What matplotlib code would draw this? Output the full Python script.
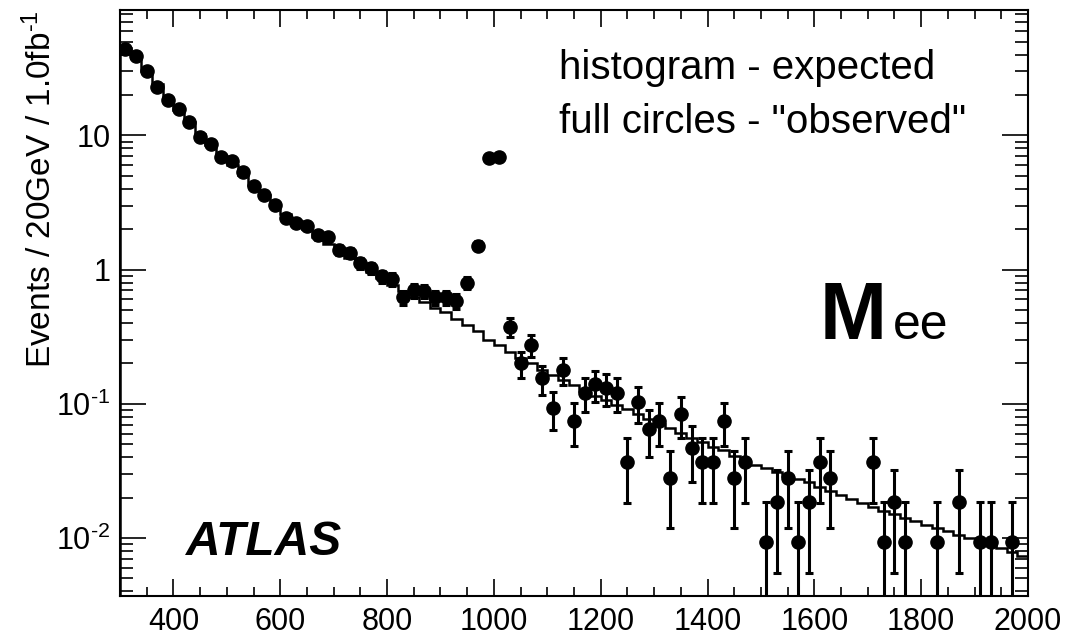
import matplotlib
matplotlib.use('Agg')
import matplotlib.pyplot as plt
import numpy as np
from matplotlib.ticker import MultipleLocator, LogLocator, FuncFormatter, NullFormatter

plt.rcParams['font.family'] = ['Liberation Sans', 'DejaVu Sans']
plt.rcParams['mathtext.fontset'] = 'custom'
plt.rcParams['mathtext.rm'] = 'Liberation Sans'
plt.rcParams['mathtext.it'] = 'Liberation Sans:italic'
plt.rcParams['mathtext.bf'] = 'Liberation Sans:bold'

# expected histogram, 20 GeV bins from 300 to 2000
bin_edges = np.arange(300, 2001, 20)
expected = [45, 38, 30, 24, 19, 15.5, 12.5, 10.2, 8.5, 7.0,
            6.0, 5.1, 4.3, 3.6, 3.05, 2.6, 2.3, 2.0, 1.75, 1.55,
            1.38, 1.22, 1.08, 0.96, 0.86, 0.77, 0.69, 0.62, 0.57, 0.52,
            0.48, 0.43, 0.39, 0.35, 0.30, 0.275, 0.245, 0.22, 0.20, 0.18,
            0.165, 0.15, 0.138, 0.125, 0.115, 0.106, 0.098, 0.091, 0.084, 0.077,
            0.071, 0.066, 0.061, 0.056, 0.052, 0.048, 0.045, 0.041, 0.038, 0.035,
            0.033, 0.031, 0.029, 0.0275, 0.026, 0.024, 0.0225, 0.021, 0.0195, 0.0182,
            0.017, 0.016, 0.015, 0.0142, 0.0134, 0.0126, 0.0119, 0.0112, 0.0106, 0.010,
            0.0094, 0.0089, 0.0084, 0.0079, 0.0074]

# "observed" points (empty bins are not drawn)
obs_mass = [310, 330, 350, 370, 390, 410, 430, 450, 470, 490,
            510, 530, 550, 570, 590, 610, 630, 650, 670, 690,
            710, 730, 750, 770, 790, 810, 830, 850, 870, 890,
            910, 930, 950, 970, 990, 1010, 1030, 1050, 1070, 1090,
            1110, 1130, 1150, 1170, 1190, 1210, 1230, 1250, 1270, 1290,
            1310, 1330, 1350, 1370, 1390, 1410, 1430, 1450, 1470, 1510,
            1530, 1550, 1570, 1590, 1610, 1630, 1710, 1730, 1750, 1770,
            1830, 1870, 1910, 1930, 1970]
obs_val = [44, 39, 30, 23, 18.5, 15.6, 12.6, 9.8, 8.7, 6.9,
           6.5, 5.3, 4.2, 3.6, 3.05, 2.42, 2.22, 2.10, 1.80, 1.75,
           1.41, 1.33, 1.12, 1.03, 0.89, 0.85, 0.62, 0.70, 0.69, 0.62,
           0.62, 0.58, 0.80, 1.51, 6.8, 6.9, 0.375, 0.20, 0.275, 0.155,
           0.093, 0.178, 0.075, 0.121, 0.140, 0.131, 0.121, 0.037, 0.103, 0.065,
           0.075, 0.028, 0.084, 0.047, 0.037, 0.037, 0.075, 0.028, 0.037, 0.0093,
           0.0187, 0.028, 0.0093, 0.0187, 0.037, 0.028, 0.037, 0.0093, 0.0187, 0.0093,
           0.0093, 0.0187, 0.0093, 0.0093, 0.0093]
obs_err = [0.64, 0.60, 0.53, 0.46, 0.42, 0.38, 0.34, 0.30, 0.285, 0.254,
           0.246, 0.222, 0.198, 0.183, 0.169, 0.150, 0.144, 0.140, 0.130, 0.128,
           0.115, 0.111, 0.102, 0.098, 0.091, 0.089, 0.076, 0.081, 0.080, 0.076,
           0.076, 0.074, 0.086, 0.119, 0.252, 0.254, 0.059, 0.043, 0.051, 0.038,
           0.0295, 0.041, 0.0265, 0.0336, 0.0361, 0.035, 0.0336, 0.0186, 0.031, 0.0246,
           0.0265, 0.0162, 0.028, 0.0209, 0.0186, 0.0186, 0.0265, 0.0162, 0.0186, 0.0093,
           0.0132, 0.0162, 0.0093, 0.0132, 0.0186, 0.0162, 0.0186, 0.0093, 0.0132, 0.0093,
           0.0093, 0.0132, 0.0093, 0.0093, 0.0093]

fig = plt.figure(figsize=(10.76, 6.36), dpi=100)
ax = fig.add_axes([120 / 1076, 1 - 596 / 636, 908 / 1076, 586 / 636])

ax.stairs(expected, bin_edges, color='black', lw=1.8)

vals = np.array(obs_val)
err_hi = np.array(obs_err)
err_lo = np.minimum(err_hi, vals - 1e-5)
ax.errorbar(obs_mass, vals, yerr=[err_lo, err_hi], fmt='o', color='black',
            ms=9.5, elinewidth=2.2, capsize=2.8, capthick=2.2, zorder=3)

ax.set_yscale('log')
ax.set_xlim(300, 2000)
ax.set_ylim(0.0037, 86)

ax.xaxis.set_major_locator(MultipleLocator(200))
ax.xaxis.set_minor_locator(MultipleLocator(50))
ax.yaxis.set_major_locator(LogLocator(base=10))
ax.yaxis.set_minor_locator(LogLocator(base=10, subs=np.arange(2, 10)))
ax.yaxis.set_minor_formatter(NullFormatter())

def ylab(v, pos):
    e = int(round(np.log10(v)))
    if e == 0:
        return '1'
    if e == 1:
        return '10'
    return r'10$^{\text{%d}}$' % e

ax.yaxis.set_major_formatter(FuncFormatter(ylab))

ax.tick_params(which='both', direction='in', top=True, right=True, labelsize=22, width=1.2)
ax.tick_params(axis='x', which='major', length=12, pad=8)
ax.tick_params(axis='x', which='minor', length=6.5)
ax.tick_params(axis='y', which='major', length=19, pad=7)
ax.tick_params(axis='y', which='minor', length=9.5)
for s in ax.spines.values():
    s.set_linewidth(1.5)

ax.set_ylabel(r'Events / 20GeV / 1.0fb$^{\text{-1}}$', fontsize=24, loc='top')
ax.yaxis.set_label_coords(-0.068, 1.0)

fig.text(559 / 1076, 1 - 79 / 636, 'histogram - expected', fontsize=29, va='baseline', ha='left')
fig.text(559 / 1076, 1 - 133 / 636, 'full circles - "observed"', fontsize=29, va='baseline', ha='left')
fig.text(820 / 1076, 1 - 339 / 636, 'M', fontsize=58, fontweight='bold', va='baseline', ha='left')
fig.text(893 / 1076, 1 - 339 / 636, 'ee', fontsize=36, va='baseline', ha='left')
fig.text(186 / 1076, 1 - 555 / 636, 'ATLAS', fontsize=34.5, fontweight='bold', fontstyle='italic',
         va='baseline', ha='left')

fig.savefig('out.png', dpi=100)
